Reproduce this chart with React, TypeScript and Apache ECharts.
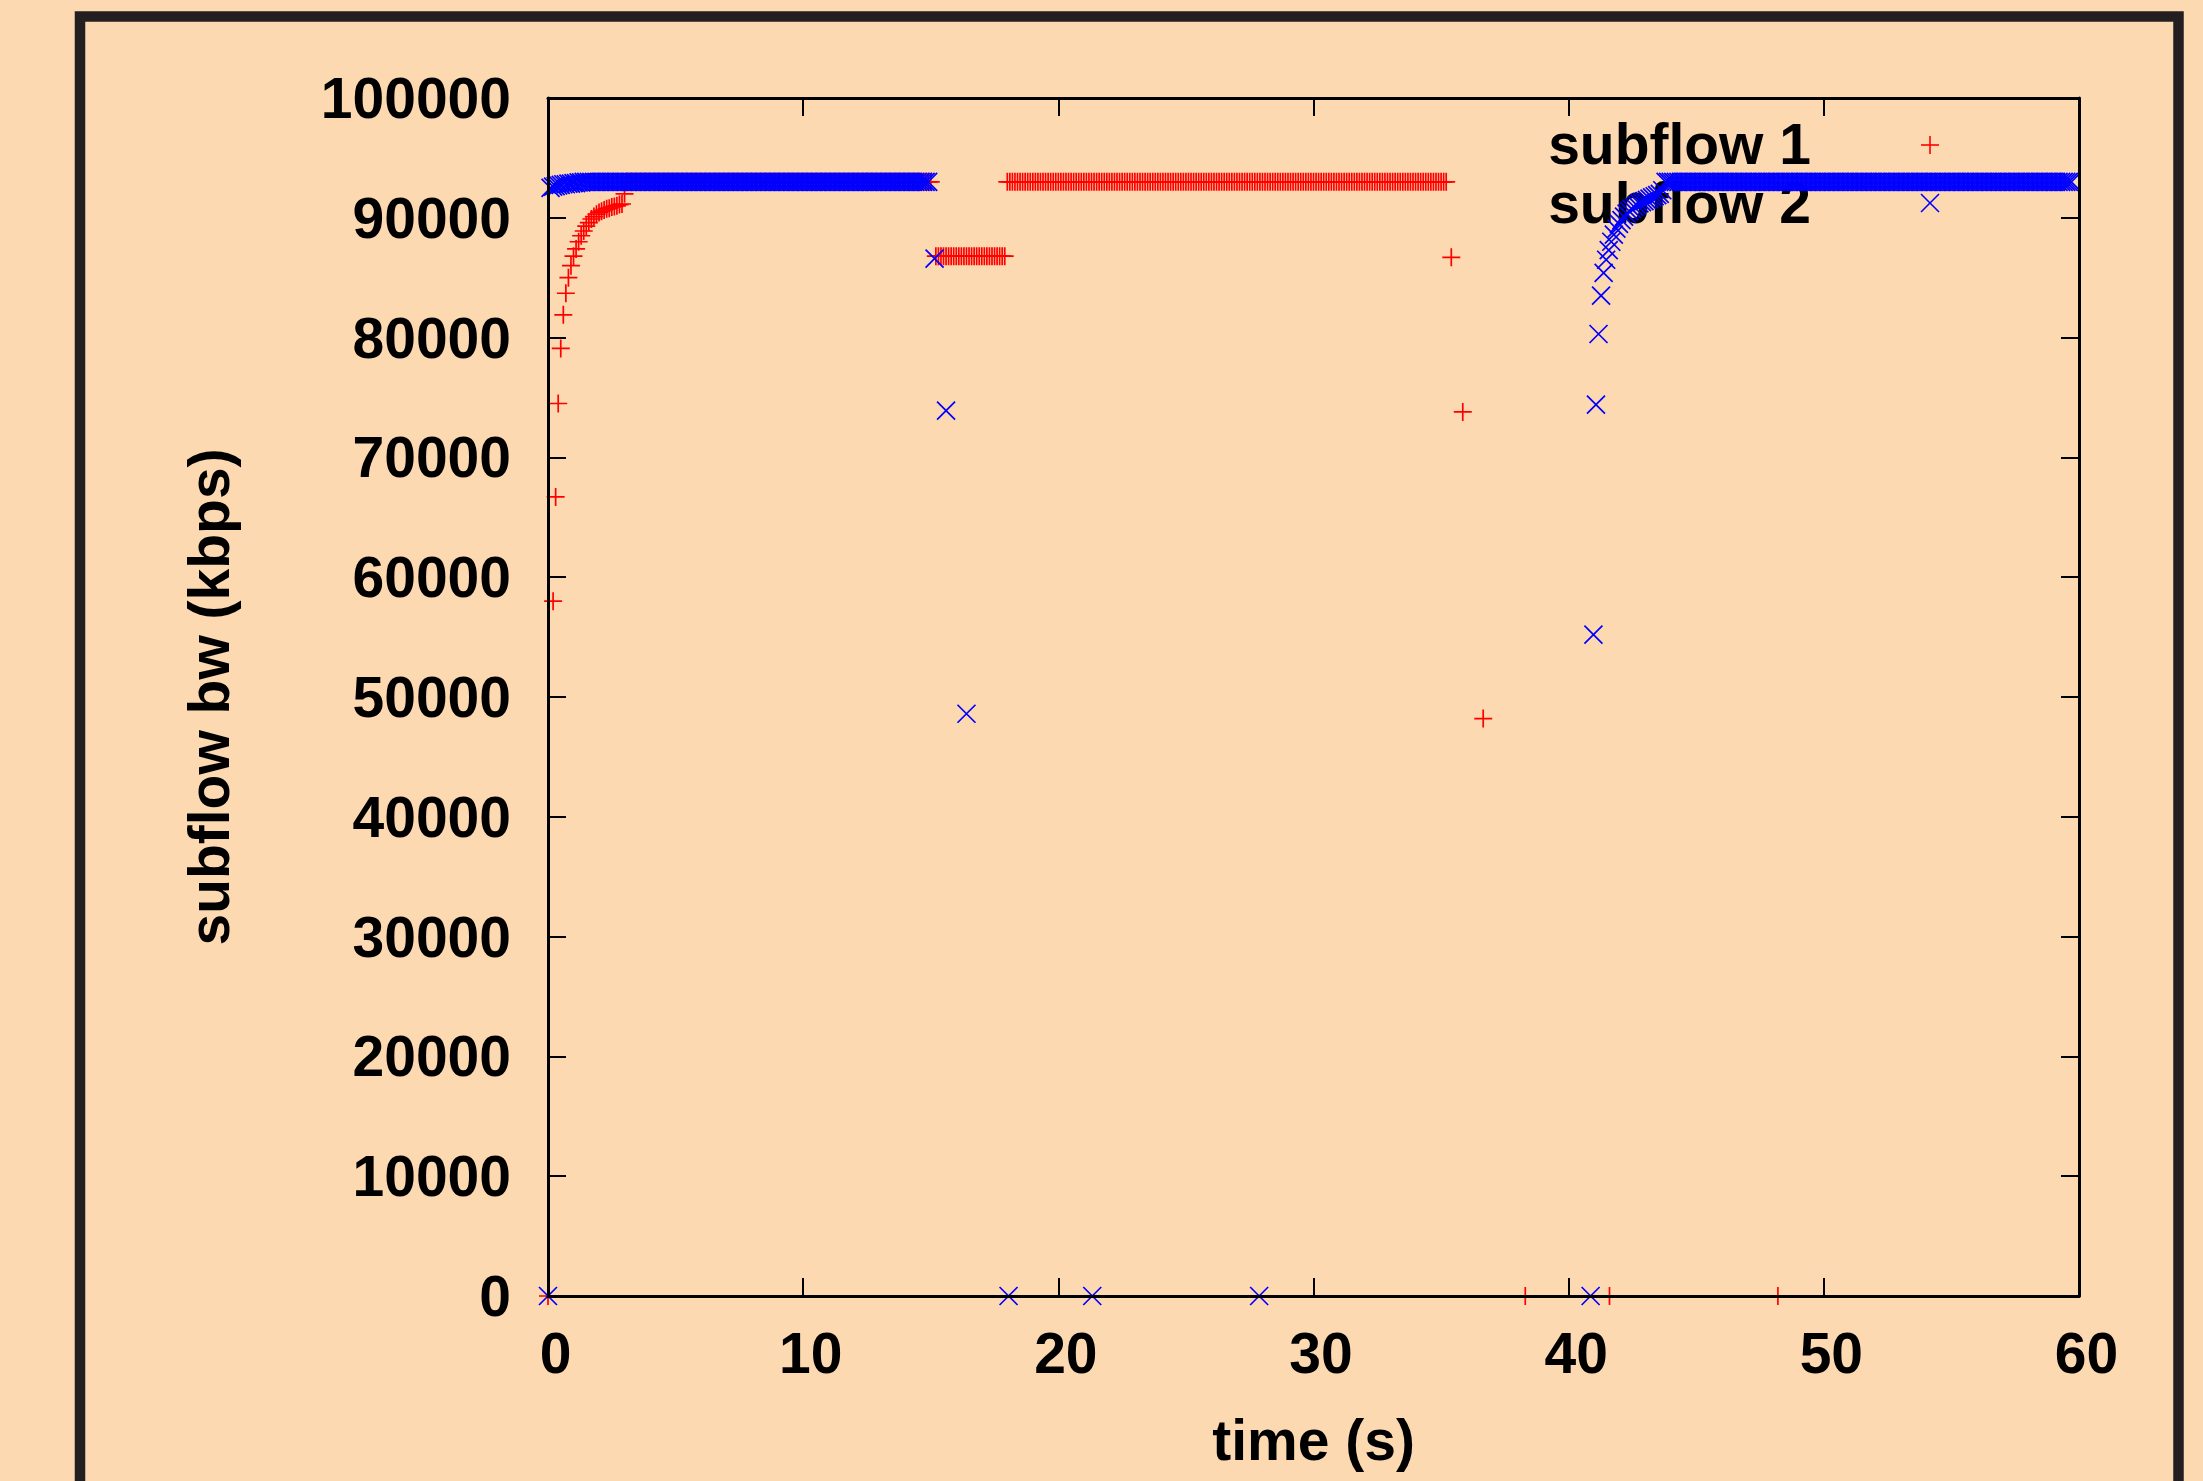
import React, { useEffect, useRef } from "react";
import * as echarts from "echarts";

// ---------- data ----------
const SAMPLE_STEP = 0.1; // seconds between consecutive samples of a run

const X_MIN = 0;
const X_MAX = 60;
const X_STEP = 10;
const Y_MIN = 0;
const Y_MAX = 100000;
const Y_STEP = 10000;

const SERIES_NAMES = ["subflow 1", "subflow 2"];

// subflow 1 (red "+")
const SUB1_RAMP_START = 0.2;
const SUB1_RAMP = [
  58000, 66700, 74500, 79100, 81900, 83700, 85000, 86000, 86800, 87400,
  88000, 88500, 88900, 89300, 89600, 89900, 90100, 90300, 90450, 90550,
  90650, 90750, 90800, 90900, 90950, 91000, 91100, 91150, 92000,
];
// flat stretches: [first time, last time, value]
const SUB1_RUNS: [number, number, number][] = [
  [3.1, 15.0, 93000],
  [15.2, 17.9, 86800],
  [18.0, 35.2, 93000],
];
const SUB1_POINTS: [number, number][] = [
  [0, 0],
  [35.4, 86700],
  [35.85, 73800],
  [36.65, 48200],
  [38.3, 0],
  [41.6, 0],
  [48.2, 0],
];

// subflow 2 (blue "x")
const SUB2_RAMP1_START = 0.1;
const SUB2_RAMP1 = [
  92500, 92600, 92650, 92700, 92750, 92800, 92800, 92850, 92850, 92900,
  92900, 92950, 92950,
];
const SUB2_RAMP2_START = 40.97;
const SUB2_RAMP2 = [
  55200, 74400, 80300, 83500, 85400, 86500, 87300, 88000, 88600, 89100,
  89500, 89800, 90100, 90350, 90550, 90750, 90900, 91050, 91200, 91300,
  91400, 91500, 91600, 91700, 91800, 91900, 92000, 92300,
];
const SUB2_RUNS: [number, number, number][] = [
  [1.4, 14.9, 93000],
  [43.8, 59.7, 93000],
];
const SUB2_POINTS: [number, number][] = [
  [0, 0],
  [15.15, 86600],
  [15.6, 73900],
  [16.4, 48600],
  [18.05, 0],
  [21.33, 0],
  [27.87, 0],
  [40.86, 0],
];

// ---------- helpers ----------
const fromRamp = (start: number, values: number[]) =>
  values.map((v, i) => [+(start + i * SAMPLE_STEP).toFixed(2), v]);

const fromRun = ([start, end, value]: [number, number, number]) => {
  const n = Math.round((end - start) / SAMPLE_STEP);
  const out: number[][] = [];
  for (let i = 0; i <= n; i++) out.push([+(start + i * SAMPLE_STEP).toFixed(2), value]);
  return out;
};

const sub1Data = [
  ...SUB1_POINTS,
  ...fromRamp(SUB1_RAMP_START, SUB1_RAMP),
  ...SUB1_RUNS.flatMap(fromRun),
];
const sub2Data = [
  ...SUB2_POINTS,
  ...fromRamp(SUB2_RAMP1_START, SUB2_RAMP1),
  ...fromRamp(SUB2_RAMP2_START, SUB2_RAMP2),
  ...SUB2_RUNS.flatMap(fromRun),
];

// ---------- style ----------
const BG = "#fdd9b1";
const FRAME = "#231f20";
const RED = "#ff0000";
const BLUE = "#0000ff";
const FONT = '"Liberation Sans", Arial, Helvetica, sans-serif';
const FS = 57;
const PLUS = "path://M1,0L1,2M0,1L2,1";
const CROSS = "path://M0,0L2,2M2,0L0,2";

const labelFont = {
  fontFamily: FONT,
  fontWeight: "bold" as const,
  fontSize: FS,
  color: "#000",
};

const axisLineStyle = { color: "#000", width: 3 };
const tickStyle = { show: true, inside: true, length: 18, lineStyle: { color: "#000", width: 2 } };

const axisCommon = {
  type: "value" as const,
  splitLine: { show: false },
  z: 5,
};

const textEl = (text: string, x: number, y: number, align: string, rotation = 0) => ({
  type: "text",
  z: 1,
  x,
  y,
  rotation,
  silent: true,
  style: {
    text,
    fontFamily: FONT,
    fontWeight: "bold",
    fontSize: FS,
    fill: "#000",
    align,
    verticalAlign: "middle",
  },
});

const lineEl = (x1: number, y1: number, x2: number, y2: number, stroke: string) => ({
  type: "line",
  z: 1,
  silent: true,
  shape: { x1, y1, x2, y2 },
  style: { stroke, lineWidth: 1.6 },
});

const option: any = {
  animation: false,
  backgroundColor: BG,
  grid: { left: 548, top: 98, width: 1531, height: 1198, show: false },
  xAxis: [
    {
      ...axisCommon,
      min: X_MIN,
      max: X_MAX,
      interval: X_STEP,
      position: "bottom",
      axisLine: { show: true, onZero: false, lineStyle: axisLineStyle },
      axisTick: tickStyle,
      axisLabel: {
        ...labelFont,
        margin: 28,
        lineHeight: FS,
        padding: [0, 0, 0, 15],
        formatter: (v: number) => String(v),
      },
    },
    {
      ...axisCommon,
      min: X_MIN,
      max: X_MAX,
      interval: X_STEP,
      position: "top",
      axisLine: { show: true, onZero: false, lineStyle: axisLineStyle },
      axisTick: tickStyle,
      axisLabel: { show: false },
    },
  ],
  yAxis: [
    {
      ...axisCommon,
      min: Y_MIN,
      max: Y_MAX,
      interval: Y_STEP,
      position: "left",
      axisLine: { show: true, onZero: false, lineStyle: axisLineStyle },
      axisTick: tickStyle,
      axisLabel: {
        ...labelFont,
        margin: 37,
        lineHeight: FS,
        formatter: (v: number) => String(v),
      },
    },
    {
      ...axisCommon,
      min: Y_MIN,
      max: Y_MAX,
      interval: Y_STEP,
      position: "right",
      axisLine: { show: true, onZero: false, lineStyle: axisLineStyle },
      axisTick: tickStyle,
      axisLabel: { show: false },
    },
  ],
  series: [
    {
      name: SERIES_NAMES[0],
      type: "scatter",
      xAxisIndex: 0,
      yAxisIndex: 0,
      data: sub1Data,
      symbol: PLUS,
      symbolSize: 18,
      clip: false,
      silent: true,
      itemStyle: { color: RED, borderColor: RED, borderWidth: 1.7, opacity: 1 },
      z: 2,
    },
    {
      name: SERIES_NAMES[1],
      type: "scatter",
      xAxisIndex: 0,
      yAxisIndex: 0,
      data: sub2Data,
      symbol: CROSS,
      symbolSize: 18,
      clip: false,
      silent: true,
      itemStyle: { color: BLUE, borderColor: BLUE, borderWidth: 1.7, opacity: 1 },
      z: 3,
    },
  ],
  graphic: [
    {
      type: "rect",
      z: 0,
      silent: true,
      shape: { x: 80, y: 16.5, width: 2098.5, height: 1600 },
      style: { fill: "none", stroke: FRAME, lineWidth: 10.5 },
    },
    textEl("subflow bw (kbps)", 209, 697, "center", Math.PI / 2),
    textEl("time (s)", 1313.5, 1440, "center"),
    textEl(SERIES_NAMES[0], 1811, 144, "right"),
    textEl(SERIES_NAMES[1], 1811, 203, "right"),
    lineEl(1921, 145, 1939, 145, RED),
    lineEl(1930, 136, 1930, 154, RED),
    lineEl(1921, 194, 1939, 212, BLUE),
    lineEl(1921, 212, 1939, 194, BLUE),
  ],
};

export default function App() {
  const ref = useRef<HTMLDivElement>(null);
  useEffect(() => {
    document.body.style.margin = "0";
    document.body.style.overflow = "hidden";
    document.body.style.background = BG;
    const chart = echarts.init(ref.current as HTMLDivElement, null, {
      renderer: "svg",
      width: 2203,
      height: 1481,
    });
    chart.setOption(option);
    return () => chart.dispose();
  }, []);
  return <div ref={ref} style={{ width: 2203, height: 1481, background: BG }} />;
}
